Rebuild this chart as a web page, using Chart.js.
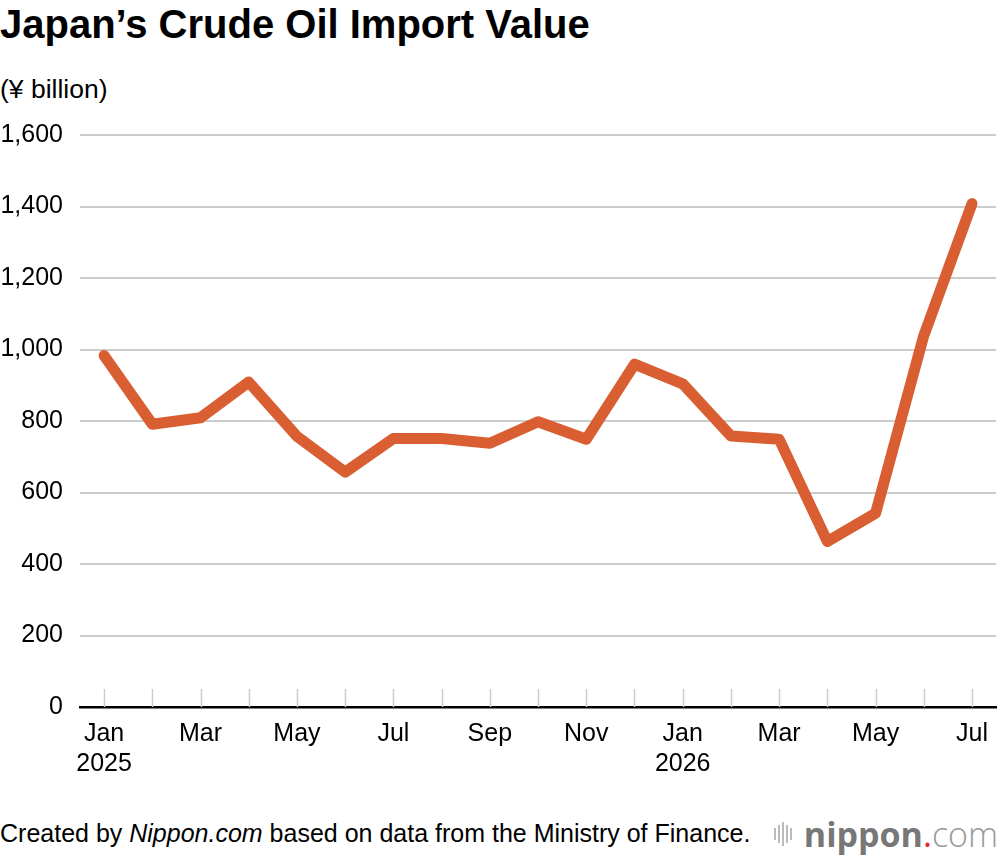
<!DOCTYPE html>
<html>
<head>
<meta charset="utf-8">
<script src="https://cdn.jsdelivr.net/npm/chart.js@4/dist/chart.umd.min.js"></script>
<style>
  html, body { margin: 0; padding: 0; background: #fff; }
  body { width: 1000px; height: 856px; position: relative; overflow: hidden;
         font-family: "Liberation Sans", Arial, sans-serif; color: #000; }
  #title { position: absolute; left: 0; top: 1px; font-size: 40px; font-weight: bold; line-height: 1.15; }
  #unit { position: absolute; left: 0; top: 74px; font-size: 26.5px; line-height: 1.15; }
  #wrap { position: absolute; left: 0; top: 103px; width: 1000px; height: 688px; }
  #footer { position: absolute; left: 0; top: 819px; font-size: 25px; line-height: 1.15; }
  #logo { position: absolute; right: 2px; top: 811px; font-size: 34px; color: #777; display: flex; align-items: center; }
  #logo .bars { display: flex; align-items: center; margin-right: 10px; }
  #logo .bars span { display: block; width: 2px; background: #bbb; margin-right: 2px; }
  #logo .n { font-weight: bold; font-family: "Open Sans", sans-serif; }
  #logo .dot { color: #e8262b; font-family: "Open Sans", sans-serif; }
  #logo .c { font-weight: 300; color: #999; font-family: "Open Sans", sans-serif; }
</style>
</head>
<body>
<div id="title">Japan’s Crude Oil Import Value</div>
<div id="unit">(¥ billion)</div>
<div id="wrap"><canvas id="chart"></canvas></div>
<div id="footer">Created by <i>Nippon.com</i> based on data from the Ministry of Finance.</div>
<div id="logo">
  <div class="bars"><span style="height:12px"></span><span style="height:18px"></span><span style="height:24px"></span><span style="height:18px"></span><span style="height:12px"></span></div>
  <span class="n">nippon</span><span class="dot">.</span><span class="c">com</span>
</div>
<script>
// Meses de Jan 2025 a Jul 2026
const months = ['Jan', 'Feb', 'Mar', 'Apr', 'May', 'Jun', 'Jul', 'Aug', 'Sep', 'Oct', 'Nov', 'Dec',
                'Jan', 'Feb', 'Mar', 'Apr', 'May', 'Jun', 'Jul'];
const years = ['2025', '', '', '', '', '', '', '', '', '', '', '', '2026', '', '', '', '', '', ''];

// Valor de importação (¥ bilhões)
const importValue = [983, 791, 809, 909, 757, 657, 751, 751, 738, 798, 749, 959,
                     904, 758, 749, 463, 542, 1039, 1408];

const yTicks = [0, 200, 400, 600, 800, 1000, 1200, 1400, 1600];

// Marcas curtas acima do eixo x, uma por mês
const innerTicks = {
    id: 'innerTicks',
    beforeDatasetsDraw(chart) {
        const x = chart.scales.x;
        const ctx = chart.ctx;
        const bottom = chart.chartArea.bottom;
        ctx.save();
        ctx.strokeStyle = '#cccccc';
        ctx.lineWidth = 1.5;
        for (let i = 0; i < months.length; i++) {
            const px = Math.round(x.getPixelForValue(i)) + 0.5;
            ctx.beginPath();
            ctx.moveTo(px, bottom - 18);
            ctx.lineTo(px, bottom);
            ctx.stroke();
        }
        ctx.restore();
    }
};

const labels = months.map((m, i) => years[i] ? [m, years[i]] : [m]);

new Chart(document.getElementById('chart'), {
    type: 'line',
    data: {
        labels: labels,
        datasets: [{
            data: importValue,
            borderColor: '#d95f33',
            borderWidth: 11,
            borderCapStyle: 'round',
            borderJoinStyle: 'round',
            pointRadius: 0,
            tension: 0,
            fill: false
        }]
    },
    options: {
        responsive: true,
        maintainAspectRatio: false,
        animation: false,
        layout: { padding: { top: 1, right: 0, left: 0, bottom: 0 } },
        plugins: { legend: { display: false }, tooltip: { enabled: false } },
        scales: {
            x: {
                offset: true,
                grid: { display: false, drawTicks: false },
                border: { display: true, color: '#000', width: 2.5 },
                ticks: {
                    autoSkip: false,
                    maxRotation: 0,
                    padding: 12,
                    color: '#000',
                    font: { family: 'Liberation Sans', size: 25, lineHeight: 1.2 },
                    callback: (v, i) => (i % 2 === 0 ? labels[i] : '')
                }
            },
            y: {
                min: 0,
                max: 1600,
                afterBuildTicks: (axis) => { axis.ticks = yTicks.map(v => ({ value: v })); },
                afterFit: (axis) => { axis.width = 80; },
                grid: { color: '#cccccc', lineWidth: 2, drawTicks: false },
                border: { display: false },
                ticks: {
                    padding: 17,
                    color: '#000',
                    font: { family: 'Liberation Sans', size: 25 },
                    callback: (v) => v.toLocaleString('en-US')
                }
            }
        }
    },
    plugins: [innerTicks]
});
</script>
</body>
</html>
